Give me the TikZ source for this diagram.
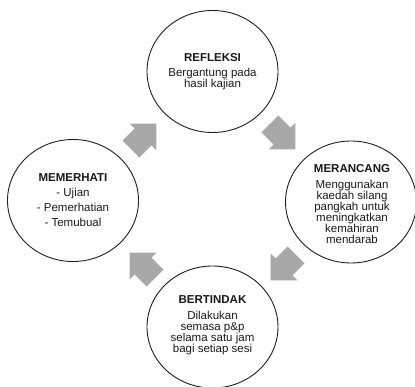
\documentclass[tikz,border=0pt]{standalone}
\usepackage{fontspec}
\setmainfont{Liberation Sans}
\usetikzlibrary{shapes.geometric}
\definecolor{arrowgray}{HTML}{A8A8A8}
\definecolor{ringcol}{HTML}{1E1E1E}
\begin{document}
\begin{tikzpicture}[x=1pt,y=-1pt,
  phase/.style={draw=ringcol, line width=0.9pt, ellipse, minimum width=131pt, minimum height=122pt, inner sep=0pt},
  phasetext/.style={align=center, font=\fontsize{11.5}{11}\selectfont, inner sep=0pt, text=black!90},
  cyclearrow/.pic={\fill[arrowgray] (19,0) -- (0,19) -- (0,12) -- (-17,12) -- (-17,-12) -- (0,-12) -- (0,-19) -- cycle;}
  ]
\useasboundingbox (0,0) rectangle (415,387);
% circles
\node[phase] (refleksi)  at (212.5,71.5) {};
\node[phase] (merancang) at (351,202) {};
\node[phase] (bertindak) at (212.5,327) {};
\node[phase] (memerhati) at (73,200.5) {};
% texts
\node[phasetext] (trefleksi) at ([yshift=0pt]refleksi.center)
  {\textbf{REFLEKSI}\\[4pt] Bergantung pada\\[0.5pt] hasil kajian};
\node[phasetext] (tmerancang) at ([xshift=1pt,yshift=-2pt]merancang.center)
  {\textbf{MERANCANG}\\[5pt] Menggunakan\\ kaedah silang\\ pangkah untuk\\ meningkatkan\\ kemahiran\\ mendarab};
\node[phasetext] (tbertindak) at ([yshift=1.5pt]bertindak.center)
  {\textbf{BERTINDAK}\\[5pt] Dilakukan\\ semasa p\&p\\ selama satu jam\\ bagi setiap sesi};
\node[phasetext] (tmemerhati) at ([yshift=0pt]memerhati.center)
  {\textbf{MEMERHATI}\\[4pt] - Ujian\\[4pt] - Pemerhatian\\[4pt] - Temubual};
% arrows
\pic[rotate=45]   (arrowtl) at (143,137) {cyclearrow};
\pic[rotate=-45]  (arrowtr) at (282,136) {cyclearrow};
\pic[rotate=-135] (arrowbr) at (284,267) {cyclearrow};
\pic[rotate=135]  (arrowbl) at (143,266) {cyclearrow};
\end{tikzpicture}
\end{document}
